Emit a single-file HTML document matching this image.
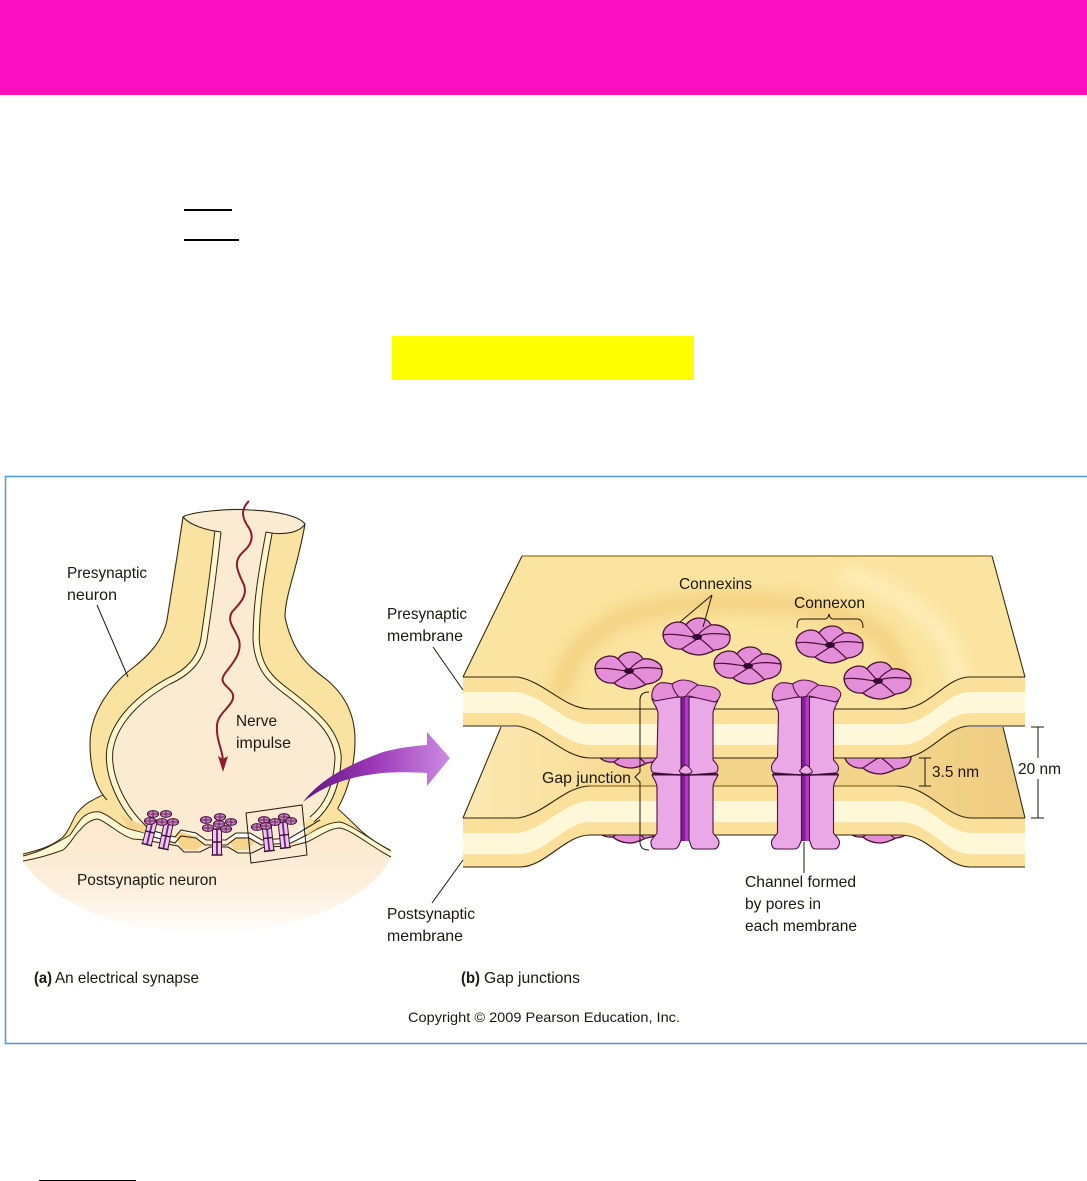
<!DOCTYPE html>
<html><head><meta charset="utf-8"><style>
html,body{margin:0;padding:0;background:#fff}
svg{display:block}
text{font-family:"Liberation Sans",sans-serif;font-size:16px;fill:#1c1710}
</style></head><body>
<svg width="1087" height="1181" viewBox="0 0 1087 1181" xmlns="http://www.w3.org/2000/svg">
<defs>
<linearGradient id="post" x1="0" y1="840" x2="0" y2="935" gradientUnits="userSpaceOnUse"><stop offset="0" stop-color="#FCE9CF"/><stop offset=".55" stop-color="#FDF0DF"/><stop offset="1" stop-color="#fff"/></linearGradient>
<linearGradient id="arrow" x1="305" y1="0" x2="450" y2="0" gradientUnits="userSpaceOnUse"><stop offset="0" stop-color="#5E1A80"/><stop offset=".45" stop-color="#9A35B5"/><stop offset="1" stop-color="#CB8BE3"/></linearGradient>
<linearGradient id="lower" x1="463" y1="0" x2="1025" y2="0" gradientUnits="userSpaceOnUse"><stop offset="0" stop-color="#FCE9B4"/><stop offset=".2" stop-color="#F9E09D"/><stop offset=".35" stop-color="#F3D58A"/><stop offset=".8" stop-color="#F2D48A"/><stop offset="1" stop-color="#EECB80"/></linearGradient>
<filter id="b" x="-20%" y="-20%" width="140%" height="140%"><feGaussianBlur stdDeviation="8"/></filter>
<clipPath id="plate"><path d="M463,677 L522,556 L992,556 L1025,677 L970,677 C945,677 930,709 900,709 L590,709 C565,709 545,682 518,677 Z"/></clipPath>
<g id="f">
<path d="M-34,-2 C-34,-9 -28,-14 -20,-15 C-15,-15 -13,-14 -11,-12 C-8,-17 -2,-19 2,-19 C8,-19 12,-16 14,-12 C22,-13 34,-9 33,1 C33,8 27,12 18,13 C14,15 8,18 2,18 C-5,18 -12,15 -15,12 C-24,13 -33,8 -34,-2Z" fill="#E48EDA" stroke="#4A1030" stroke-width="1.3"/>
<path d="M-1,-1C-4,-4 -8,-9 -11,-12M1,-2C5,-7 10,-10 14,-12M2,-1C10,-4 22,-4 33,-2M2,1C8,5 12,9 16,13M0,2C-6,6 -11,9 -15,12M-2,0C-12,-1 -24,-4 -34,-2" fill="none" stroke="#4A1030" stroke-width="1.2"/>
<ellipse rx="5" ry="3" fill="#33082F"/>
</g>
<g id="mf">
<ellipse rx="5.6" ry="3.4" fill="#C884C0" stroke="#4A1040" stroke-width="1"/>
<path d="M-5,0H5M0,-3V3" stroke="#4A1040" stroke-width=".8"/>
</g>
<g id="mc">
<rect x="-4.5" y="-13" width="9" height="26" fill="#EDC8EC" stroke="#3C1338" stroke-width="1"/>
<path d="M0,-13V13" stroke="#6E2280" stroke-width="1.8"/>
<path d="M-5.5,-13H5.5M-5.5,13H5.5M-5,0H5" stroke="#3C1338" stroke-width="1.4"/>
</g>
<g id="ch">
<path d="M652,699 C654,705 658,708 658,714 L657,757 C655,760 651,763 651,767 C651,771 652,773 656,773 L681,775 L681,697Z" fill="#EAA9E6" stroke="#4A1040" stroke-width="1.1"/>
<path d="M689,697 L718,700 C716,705 713,708 713,714 L713,760 C715,762 718,765 718,768 C718,771 717,773 714,773 L689,775Z" fill="#EAA9E6" stroke="#4A1040" stroke-width="1.1"/>
<path d="M652,775 C654,780 657,782 657,788 L657,833 C655,836 651,839 651,842 C651,846 652,849 656,849 L674,849 C678,849 679,845 681,840 L681,775Z" fill="#EAA9E6" stroke="#4A1040" stroke-width="1.1"/>
<path d="M689,775 L718,775 C716,780 713,782 713,788 L713,833 C715,836 719,839 719,842 C719,846 717,849 714,849 L695,849 C691,849 691,845 689,840Z" fill="#EAA9E6" stroke="#4A1040" stroke-width="1.1"/>
<rect x="681" y="697" width="4" height="144" fill="#7F1C96"/>
<rect x="685" y="697" width="4" height="144" fill="#B338C6"/>
<path d="M681,697V841M689,697V841" stroke="#3A0F40" stroke-width=".9"/>
<path d="M679,771 C681,768 684,765 686,765 C689,767 691,769 692,772 C689,775 682,775 679,771Z" fill="#EAA9E6" stroke="#4A1040" stroke-width=".9"/>
<path d="M652,698 C651,690 655,685 660,683 C664,682 668,683 672,684 C675,682 679,680 683,680 C689,680 694,682 698,685 C704,686 711,686 715,688 C719,690 721,693 720,696 C719,699 717,701 715,702 L689,696 L682,697 L677,697 L655,701Z" fill="#E48EDA" stroke="#4A1040" stroke-width="1.1"/>
<path d="M672,684 C673,689 676,694 679,697M698,685 C693,688 689,692 685,697" fill="none" stroke="#4A1040" stroke-width="1"/>
<path d="M652,774 L681,775 L689,775 L718,774" fill="none" stroke="#33102E" stroke-width="1.5"/>
</g>
</defs>

<rect x="0" y="0" width="1087" height="95" fill="#FC0FC0"/>
<rect x="184" y="209" width="48" height="2" fill="#000"/>
<rect x="184" y="239" width="55" height="2" fill="#000"/>
<rect x="392" y="336" width="302" height="44" fill="#FFFF00"/>
<rect x="39" y="1180" width="97" height="1" fill="#000"/>
<rect x="5.5" y="476.5" width="1083" height="567" fill="#fff" stroke="#5B9BD5" stroke-width="1.6"/>

<!-- (a) electrical synapse -->
<path d="M23,861 C40,858 55,853 63,850 C70,845 74,835 80,830 C85,824 90,820 97,819 C103,820 108,825 113,828 C120,833 126,837 133,839 L145,840 L307,842 C318,837 330,828 340,828 C352,830 370,846 391,857 C370,905 280,935 207,935 C130,935 50,905 23,861Z" fill="url(#post)"/>
<path d="M23,854 C40,850 52,846 63,837 C70,830 72,820 77,813 C83,806 88,802 93,800 C98,797 102,795 106,794 L145,825 L145,833 L133,830 C128,829 122,826 117,822 C112,819 108,815 100,812 C94,811 88,813 83,817 C78,822 75,828 70,835 C55,844 40,852 23,856Z" fill="#FAE3A0"/>
<path d="M23,856 C40,852 55,844 70,835 C75,828 78,822 83,817 C88,813 94,811 100,812 C108,815 112,819 117,822 C122,826 128,829 133,830 L145,833 L145,840 L133,839 C126,837 120,833 113,828 C108,825 103,820 97,819 C90,820 85,824 80,830 C74,835 70,845 63,850 C55,853 40,858 23,861Z" fill="#FFF7D2"/>
<path d="M337,808 C345,815 350,820 357,827 C368,838 380,845 391,851 C368,838 350,824 340,822 C330,822 318,828 307,835 L305,825Z" fill="#FAE3A0"/>
<path d="M307,835 C318,828 330,822 340,822 C350,824 368,838 391,851 L391,857 C370,846 352,830 340,828 C330,828 318,837 307,842Z" fill="#FFF7D2"/>
<g fill="none" stroke="#3A2A10" stroke-width="1">
<path d="M23,854 C40,850 52,846 63,837 C70,830 72,820 77,813 C83,806 88,802 93,800 C98,797 102,795 106,794"/>
<path d="M23,856 C40,852 55,844 70,835 C75,828 78,822 83,817 C88,813 94,811 100,812 C108,815 112,819 117,822 C122,826 128,829 133,830 L145,833"/>
<path d="M23,861 C40,858 55,853 63,850 C70,845 74,835 80,830 C85,824 90,820 97,819 C103,820 108,825 113,828 C120,833 126,837 133,839 L145,840"/>
<path d="M337,808 C345,815 350,820 357,827 C368,838 380,845 390,850"/>
<path d="M307,835 C318,828 330,822 340,822 C350,824 368,838 391,851"/>
<path d="M307,842 C318,837 330,828 340,828 C352,830 370,846 391,857"/>
</g>

<path d="M183,517 L177,557 L167,620 C163,640 150,655 130,670 C112,684 90,712 90,743 C90,770 96,788 107,800 L143,828 L310,825 L338,808 C348,790 355,765 355,740 C355,715 345,695 327,680 C310,667 293,655 285,617 C285,595 297,570 305,524 Z" fill="#FAE3A0"/>
<path d="M107,800 C96,788 90,770 90,743 C90,712 112,684 130,670 C150,655 163,640 167,620 L177,557 L183,517 M305,524 C297,570 285,595 285,617 C293,655 310,667 327,680 C345,695 355,715 355,740 C355,765 348,790 338,808" fill="none" stroke="#3A2A10" stroke-width="1.1"/>
<path d="M221,532 C218,560 213,600 207,640 C203,662 190,675 170,684 C145,698 118,720 113,750 C110,775 125,805 143,823 M310,817 C325,805 334,785 335,757 C333,735 318,720 290,698 C270,683 255,672 253,640 C253,600 260,565 266,532" fill="none" stroke="#2E2410" stroke-width="13.5"/>
<path d="M221,532 C218,560 213,600 207,640 C203,662 190,675 170,684 C145,698 118,720 113,750 C110,775 125,805 143,823 M310,817 C325,805 334,785 335,757 C333,735 318,720 290,698 C270,683 255,672 253,640 C253,600 260,565 266,532" fill="none" stroke="#FFF5CE" stroke-width="11.5"/>
<path d="M221,532 C218,560 213,600 207,640 C203,662 190,675 170,684 C145,698 118,720 113,750 C110,775 125,805 143,823 L150,830 L175,837 L181,830 L196,833 L206,840 L226,840 L236,833 L250,833 L262,840 L290,838 L310,817 C325,805 334,785 335,757 C333,735 318,720 290,698 C270,683 255,672 253,640 C253,600 260,565 266,532 C285,536 300,532 305,524 C300,517 280,511 250,510 C230,508 190,512 183,517 C190,525 205,530 221,532Z" fill="#FCEBD3"/>
<path d="M266,532 C285,536 300,532 305,524 C300,517 280,511 250,510 C230,508 190,512 183,517 C190,525 205,530 221,532" fill="none" stroke="#2E2410" stroke-width="1.1"/>
<path d="M221,532 C218,560 213,600 207,640 C203,662 190,675 170,684 C145,698 118,720 113,750 C110,775 125,805 143,823 M310,817 C325,805 334,785 335,757 C333,735 318,720 290,698 C270,683 255,672 253,640 C253,600 260,565 266,532" fill="none" stroke="#2E2410" stroke-width="1"/>

<!-- synaptic cleft -->
<path d="M120,815 L145,826 L145,833 L128,828Z M175,836 L181,832 L196,836 L204,844 L196,850 L182,849Z M230,841 L236,837 L250,837 L254,843 L248,850 L234,850Z M298,838 L318,826 L332,822 L318,828 L307,835Z" fill="#F6D48B"/>
<path d="M143,823 L150,830 L175,837 L181,830 L196,833 L206,840 L226,840 L236,833 L250,833 L262,840 L290,838 L310,826 L320,820" fill="none" stroke="#2E2410" stroke-width="1.1"/>
<path d="M145,833 L150,836 L175,843 L181,836 L196,838 L205,845 L227,845 L236,838 L249,838 L261,845 L291,843 L307,835" fill="none" stroke="#2E2410" stroke-width="1.1"/>
<path d="M145,840 L150,841 L178,846 L184,852 L200,852 L210,847 L228,847 L238,853 L252,853 L264,847 L292,846 L307,842" fill="none" stroke="#2E2410" stroke-width="1.1"/>
<use href="#mc" transform="translate(150,832) rotate(14)"/>
<use href="#mc" transform="translate(166,836) rotate(12)"/>
<use href="#mc" transform="translate(217,842)"/>
<use href="#mc" transform="translate(268,838) rotate(-6)"/>
<use href="#mc" transform="translate(284,835) rotate(-6)"/>
<use href="#mf" x="153" y="814"/><use href="#mf" x="166" y="814"/><use href="#mf" x="162" y="822"/><use href="#mf" x="173" y="822"/><use href="#mf" x="150" y="821"/>
<use href="#mf" x="206" y="820"/><use href="#mf" x="220" y="817"/><use href="#mf" x="231" y="822"/><use href="#mf" x="219" y="824"/><use href="#mf" x="208" y="828"/><use href="#mf" x="226" y="829"/>
<use href="#mf" x="257" y="827"/><use href="#mf" x="264" y="820"/><use href="#mf" x="275" y="822"/><use href="#mf" x="284" y="817"/><use href="#mf" x="291" y="821"/><use href="#mf" x="266" y="826"/>
<path d="M246,813 L302,805 L307,855 L251,863Z" fill="none" stroke="#1f1a10" stroke-width="1"/>

<path d="M303,802 C320,780 345,766 383,752 C398,748 412,746 427,745 L427,732 L450,758 L427,786 L427,773 C410,772 395,772 383,773 C350,776 325,785 303,802Z" fill="url(#arrow)"/>
<path d="M249,501 C240,510 242,518 249,528 C255,538 250,546 243,552 C232,562 238,572 244,585 C248,597 238,605 232,612 C226,622 236,630 239,640 C243,655 228,668 224,675 C218,684 232,688 233,695 C235,705 218,712 217,725 C216,740 222,748 223,760" fill="none" stroke="#8E1B2E" stroke-width="2"/>
<path d="M223,772 L218,756 L223,759 L228,756Z" fill="#8E1B2E"/>

<!-- (b) gap junctions -->
<path d="M501,727 L463,818 L1025,818 L1003,727Z" fill="url(#lower)"/>
<path d="M501,727 L463,818M1003,727 L1025,818" fill="none" stroke="#3A2A10" stroke-width="1.1"/>
<path d="M463,677 L522,556 L992,556 L1025,677 L1025,715 L463,715Z" fill="#FBE49F"/>
<g clip-path="url(#plate)">
<path d="M560,700 C560,670 575,645 617,620 C660,602 720,600 773,603 C810,604 865,620 885,640 C895,652 900,665 905,690" fill="none" stroke="#F2CE7C" stroke-width="16" filter="url(#b)"/>
<path d="M840,575 C880,578 925,610 947,640 C955,655 958,668 960,690" fill="none" stroke="#FFF4CC" stroke-width="14" opacity=".75" filter="url(#b)"/>
</g>
<path d="M522,556 L992,556" stroke="#A98A3B" stroke-width="1.4" fill="none"/>
<path d="M463,677 L522,556M992,556 L1025,677" stroke="#3A2A10" stroke-width="1.1" fill="none"/>

<use href="#f" x="629" y="750"/>
<use href="#f" x="878" y="756"/>
<use href="#f" x="628" y="825"/>
<use href="#f" x="878" y="825"/>

<path d="M463,818 L518,818 C545,814 565,786 590,786 L897,786 C930,786 945,818 972,818 L1025,818 L1025,867 L970,867 C945,867 930,835 900,835 L590,835 C565,835 545,867 520,867 L463,867 Z" fill="#FAE09A"/>
<path d="M463,833 L518,833 C545,829 565,801 590,801 L897,801 C930,801 945,833 972,833 L1025,833 L1025,854 L970,854 C945,854 930,822 900,822 L590,822 C565,822 545,854 520,854 L463,854 Z" fill="#FFF8D8"/>
<path d="M463,677 L518,677 C545,682 565,709 590,709 L900,709 C930,709 945,677 970,677 L1025,677 L1025,726 L970,726 C945,726 930,758 900,758 L590,758 C565,758 545,731 518,726 L463,726 Z" fill="#FAE09A"/>
<path d="M463,692 L518,692 C545,697 565,724 590,724 L900,724 C930,724 945,692 970,692 L1025,692 L1025,713 L970,713 C945,713 930,745 900,745 L590,745 C565,745 545,718 518,713 L463,713 Z" fill="#FFF8D8"/>
<path d="M463,677 L518,677 C545,682 565,709 590,709 L900,709 C930,709 945,677 970,677 L1025,677M463,726 L518,726 C545,731 565,758 590,758 L900,758 C930,758 945,726 970,726 L1025,726M463,867 L520,867 C545,867 565,835 590,835 L900,835 C930,835 945,867 970,867 L1025,867" fill="none" stroke="#2E2410" stroke-width="1.1"/>
<path d="M463,818 L518,818 C545,814 565,786 590,786" fill="none" stroke="#2E2410" stroke-width="1.1"/>
<path d="M590,786 L897,786" fill="none" stroke="#8F7224" stroke-width="1.3"/>
<path d="M897,786 C930,786 945,818 972,818 L1025,818" fill="none" stroke="#2E2410" stroke-width="1.1"/>

<use href="#f" x="697" y="637"/>
<use href="#f" x="629" y="671"/>
<use href="#f" x="748" y="666"/>
<use href="#f" x="830" y="645"/>
<use href="#f" x="878" y="681"/>

<use href="#ch"/>
<use href="#ch" x="120.5"/>

<g fill="none" stroke="#1c1710" stroke-width="1">
<path d="M97,605 L128,677"/>
<path d="M433,647 L463,690"/>
<path d="M463,860 L432,903"/>
<path d="M712,595 L680,622M712,595 L703,627"/>
<path d="M797,628 C797,622 798,619 802,619 L825,619 Q828,619 829,614 Q830,619 833,619 L857,619 C861,619 863,622 863,628"/>
<path d="M649,692 C643,692 640,695 640,700 L640,772 L635,777 L640,782 L640,842 C640,847 643,850 649,850"/>
<path d="M925,758 L925,786M919,758 H931M919,786 H931"/>
<path d="M1038,727 V758M1038,779 V818M1031,727 H1044M1031,818 H1044"/>
<path d="M804,842 V873"/>
</g>

<g>
<text x="67" y="578" textLength="80" lengthAdjust="spacingAndGlyphs">Presynaptic</text>
<text x="67" y="600" textLength="50" lengthAdjust="spacingAndGlyphs">neuron</text>
<text x="236" y="726" textLength="41" lengthAdjust="spacingAndGlyphs">Nerve</text>
<text x="236" y="748" textLength="55" lengthAdjust="spacingAndGlyphs">impulse</text>
<text x="77" y="885" textLength="140" lengthAdjust="spacingAndGlyphs">Postsynaptic neuron</text>
<text x="387" y="619" textLength="80" lengthAdjust="spacingAndGlyphs">Presynaptic</text>
<text x="387" y="641" textLength="76" lengthAdjust="spacingAndGlyphs">membrane</text>
<text x="679" y="589" textLength="73" lengthAdjust="spacingAndGlyphs">Connexins</text>
<text x="794" y="608" textLength="71" lengthAdjust="spacingAndGlyphs">Connexon</text>
<text x="542" y="783" textLength="89" lengthAdjust="spacingAndGlyphs">Gap junction</text>
<text x="932" y="777" textLength="47" lengthAdjust="spacingAndGlyphs">3.5 nm</text>
<text x="1018" y="774" textLength="43" lengthAdjust="spacingAndGlyphs">20 nm</text>
<text x="745" y="887" textLength="111" lengthAdjust="spacingAndGlyphs">Channel formed</text>
<text x="745" y="909" textLength="76" lengthAdjust="spacingAndGlyphs">by pores in</text>
<text x="745" y="931" textLength="112" lengthAdjust="spacingAndGlyphs">each membrane</text>
<text x="387" y="919" textLength="88" lengthAdjust="spacingAndGlyphs">Postsynaptic</text>
<text x="387" y="941" textLength="76" lengthAdjust="spacingAndGlyphs">membrane</text>
<text x="34" y="983" font-weight="700" textLength="18" lengthAdjust="spacingAndGlyphs">(a)</text>
<text x="55" y="983" textLength="144" lengthAdjust="spacingAndGlyphs">An electrical synapse</text>
<text x="461" y="983" font-weight="700" textLength="19" lengthAdjust="spacingAndGlyphs">(b)</text>
<text x="484" y="983" textLength="96" lengthAdjust="spacingAndGlyphs">Gap junctions</text>
<text x="408" y="1022" style="font-size:14px" textLength="272" lengthAdjust="spacingAndGlyphs">Copyright © 2009 Pearson Education, Inc.</text>
</g>
</svg>
</body></html>
